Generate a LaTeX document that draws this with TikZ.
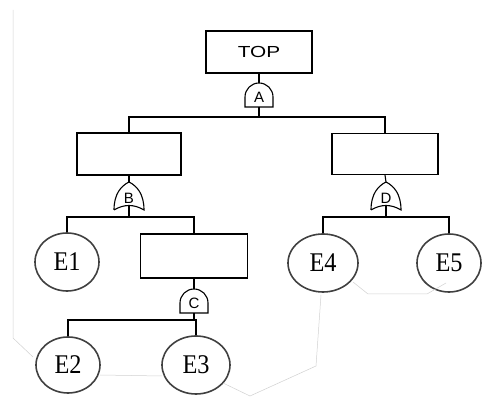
\documentclass[tikz,border=0pt]{standalone}
\usepackage{fontspec}
\setmainfont{Liberation Serif}
\setsansfont{Liberation Sans}
\usepackage{tikz}
\usetikzlibrary{shapes.geometric}
\usetikzlibrary{calc}

\tikzset{
	event/.style={draw, rectangle, line width=1.1pt, inner sep=0pt},
	basic/.style={draw=black!75, ellipse, line width=1.6pt, inner sep=0pt, font=\fontsize{27}{27}\selectfont},
	gatelbl/.style={font=\sffamily\fontsize{15}{15}\selectfont, inner sep=0pt},
	andgate/.pic={
		\draw[line width=1.1pt] (-14,0) -- (-14,10) arc[start angle=180, end angle=0, radius=14pt] -- (14,0) -- cycle;
		\node[gatelbl] at (0,10) {#1};
		\coordinate (-in) at (0,0);
		\coordinate (-out) at (0,24);
	},
	orgate/.pic={
		\draw[line width=1.1pt] (-15,0) .. controls (-5,6) and (5,6) .. (15,0)
			.. controls (15,16) and (8,24) .. (0,28)
			.. controls (-8,24) and (-15,16) .. (-15,0);
		\node[gatelbl] at (0,12) {#1};
		\coordinate (-in) at (0,4.5);
		\coordinate (-out) at (0,28);
	},
	noise/.style={draw=black!18, line width=0.5pt}
}

\begin{document}
\begin{tikzpicture}[x=1pt, y=1pt, line width=1.1pt]
			\useasboundingbox (0,0) rectangle (487,398);
			% events
			\node[event, minimum width=106, minimum height=42] (top) at (259,346) {\sffamily\fontsize{16}{16}\selectfont\scalebox{1.3}[1]{TOP}};
			\node[event, minimum width=104, minimum height=42] (evB) at (129,244) {};
			\node[event, minimum width=106, minimum height=41] (evD) at (385,244) {};
			\node[event, minimum width=107, minimum height=44] (evC) at (194,142) {};
			% basic events
			\node[basic, minimum width=64, minimum height=58] (e1) at (67,136) {\scalebox{0.9}[1]{E1}};
			\node[basic, minimum width=64, minimum height=56] (e2) at (68,33) {\scalebox{0.9}[1]{E2}};
			\node[basic, minimum width=68, minimum height=58] (e3) at (196,33) {\scalebox{0.9}[1]{E3}};
			\node[basic, minimum width=70, minimum height=58] (e4) at (323,135) {\scalebox{0.9}[1]{E4}};
			\node[basic, minimum width=64, minimum height=58] (e5) at (449,135) {\scalebox{0.9}[1]{E5}};
			% gates
			\pic (gA) at (259,291) {andgate=A};
			\pic (gB) at (129,188) {orgate=B};
			\pic (gD) at (386,188) {orgate=D};
			\pic (gC) at (194,85) {andgate=C};
			% connections
			\coordinate (busA) at (259,281);
			\coordinate (busB) at (129,181);
			\coordinate (busD) at (386,181);
			\coordinate (busC) at (194,78);
			\draw (top.south) -- (gA-out);
			\draw (gA-in) -- (busA);
			\draw (evB.north) |- (busA) -| (evD.north);
			\draw (evB.south) -- (gB-out);
			\draw (gB-in) -- (busB);
			\draw (e1.north) |- (busB) -| (evC.north);
			\draw (evD.south) -- (gD-out);
			\draw (gD-in) -- (busD);
			\draw (e4.north) |- (busD) -| (e5.north);
			\draw (evC.south) -- (gC-out);
			\draw (gC-in) -- (busC);
			\draw (e2.north) |- (busC) -| (e3.north);
			% faint scan lines
			\draw[noise] (13,388) -- (13,60) -- (33,41);
			\draw[noise] (100,23) -- (162,22);
			\draw[noise] (223,15) -- (250,2) -- (316,32) -- (321,103);
			\draw[noise] (353,116) -- (368,104) -- (427,104) -- (446,115);
\end{tikzpicture}
\end{document}
